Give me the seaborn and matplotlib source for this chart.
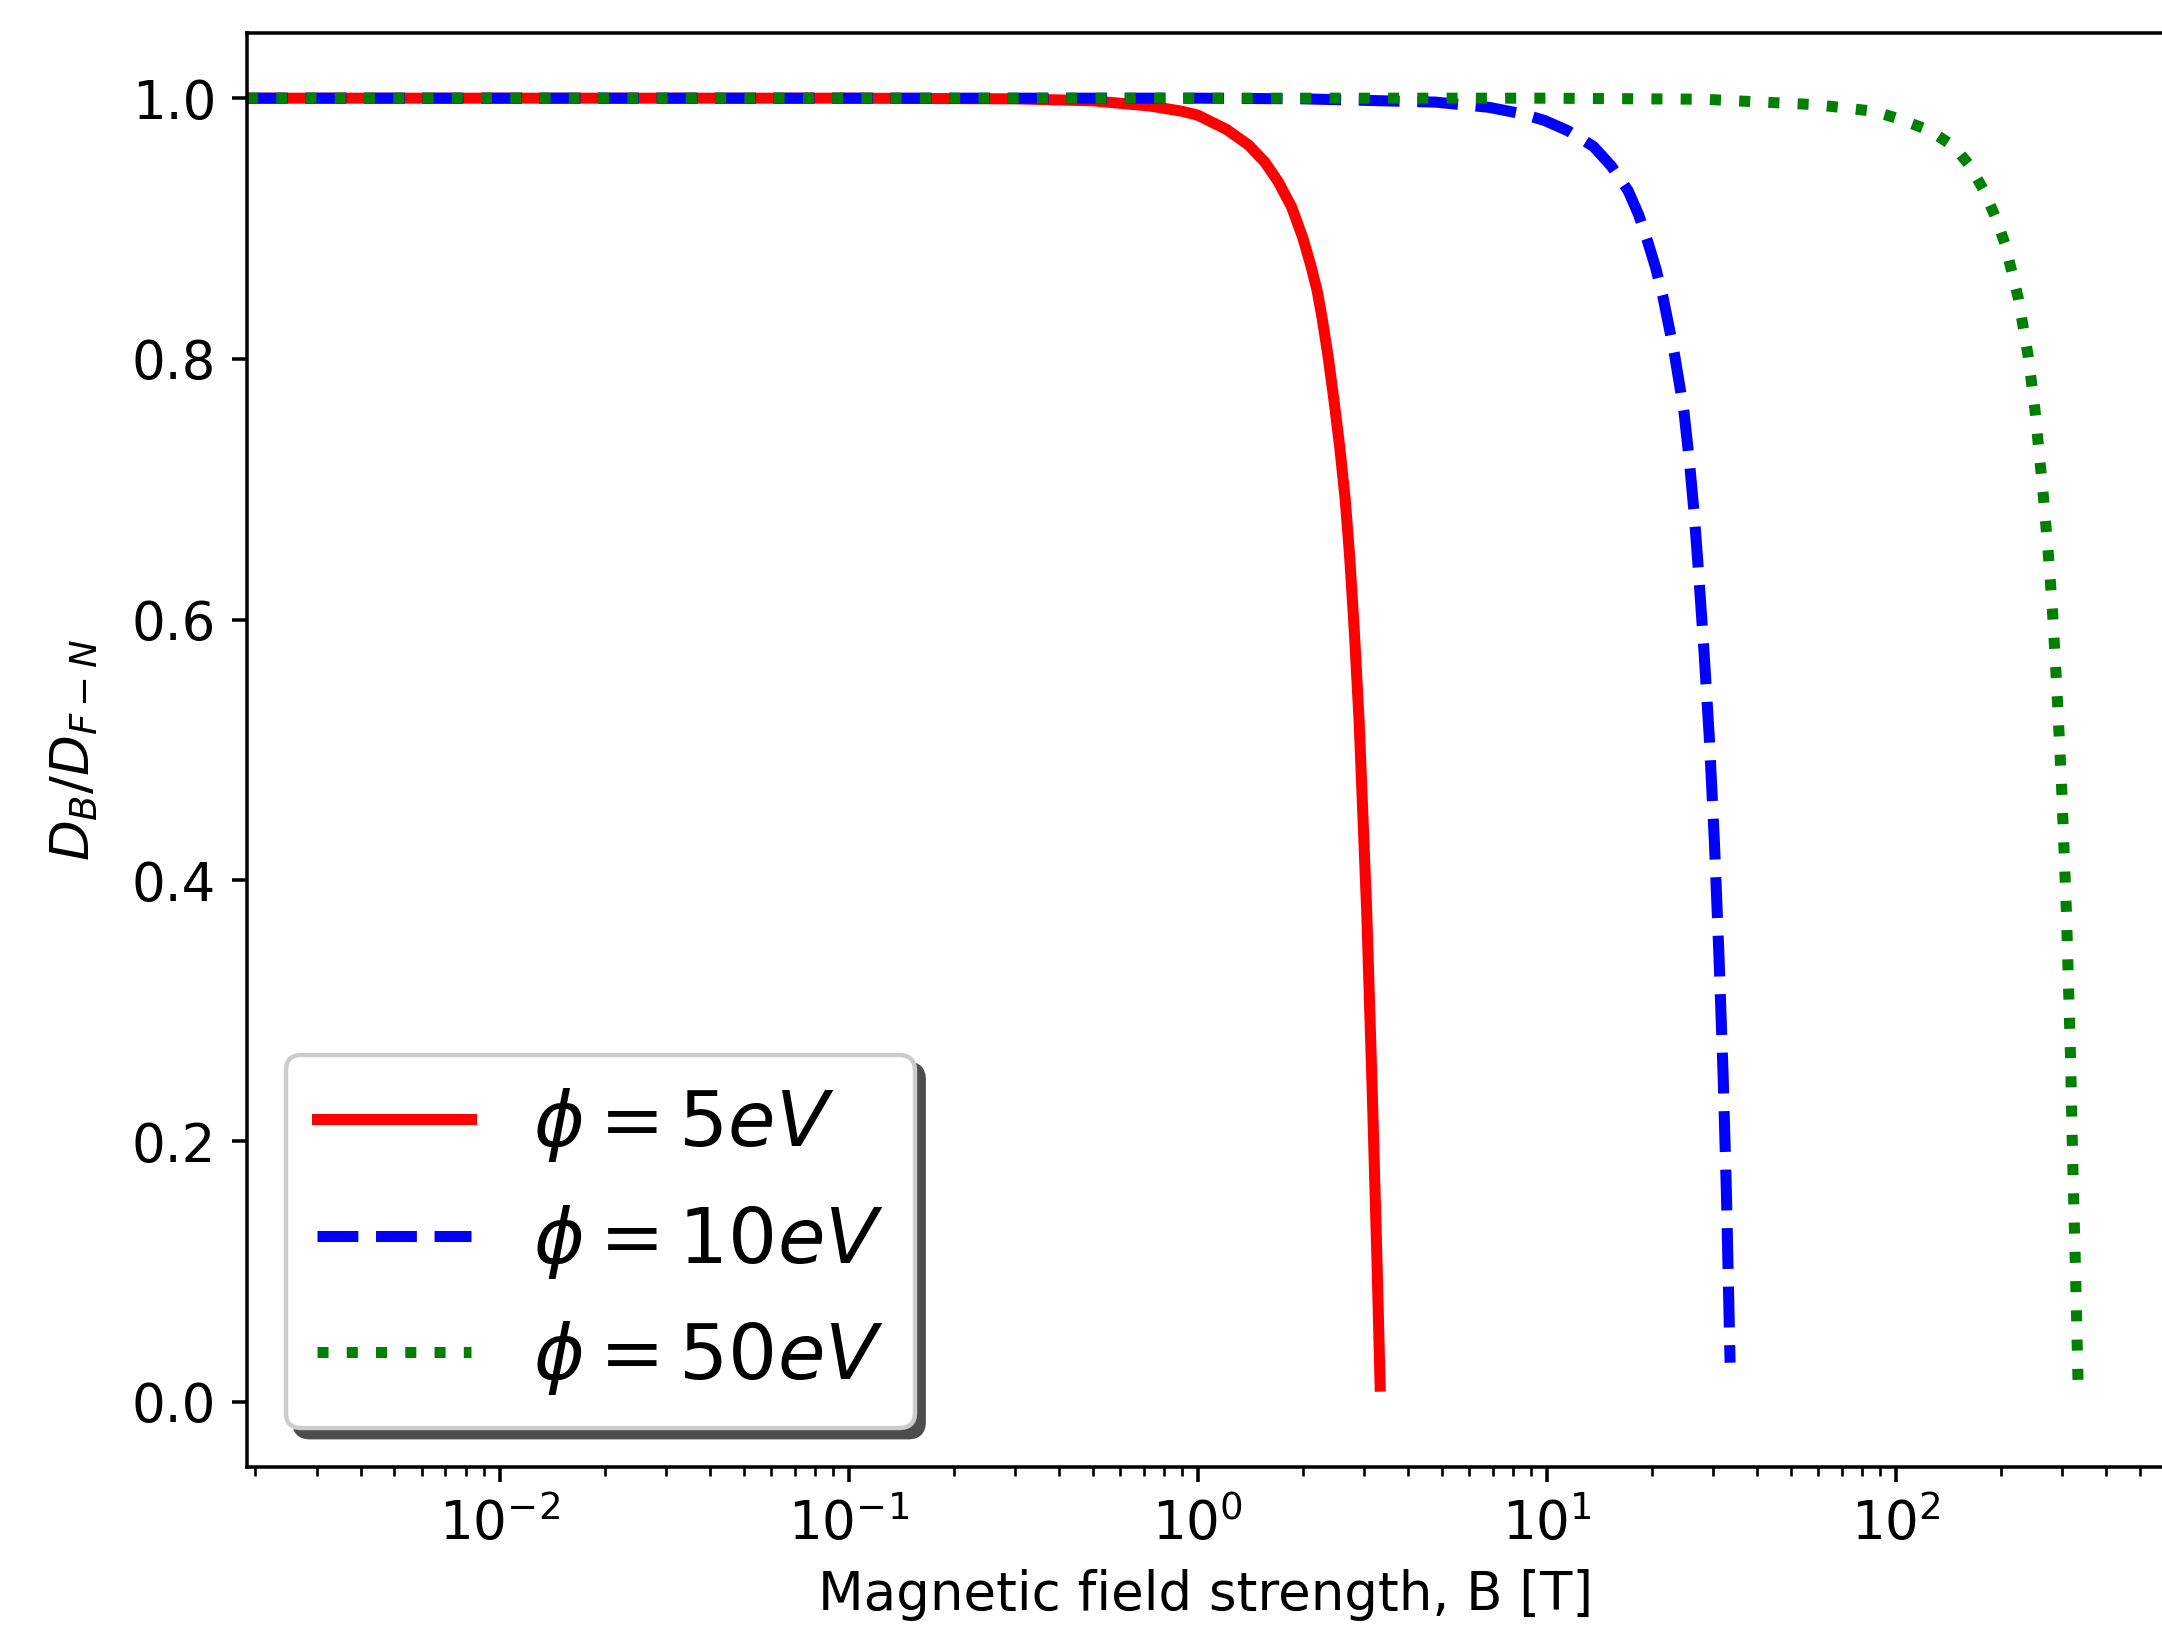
import numpy as np
import pandas as pd
import seaborn as sns
import matplotlib.pyplot as plt

# values
b_5ev = [0.00189, 0.01, 0.1, 0.3, 0.5, 0.73, 0.9, 1.0, 1.21, 1.4, 1.557, 1.7,
         1.858, 2.0, 2.107, 2.2, 2.273, 2.36, 2.452, 2.55, 2.646, 2.722, 2.81,
         2.90, 3.049, 3.167, 3.265, 3.331]
d_5ev = [1.0, 1.0, 1.0, 0.9995, 0.998, 0.994, 0.990, 0.987, 0.976, 0.964, 0.951,
         0.936, 0.9165, 0.893, 0.872, 0.852, 0.831, 0.803, 0.770, 0.733, 0.692,
         0.650, 0.591, 0.522, 0.376, 0.232, 0.105, 0.012]

b_10ev = [0.00189, 0.01, 0.1, 1.0, 2.0, 4.79, 6.82, 8.5, 9.83, 11.5, 13.6, 15.3,
          17.1, 18.3, 19.4, 20.5, 21.5, 23.2, 24.7, 25.6, 26.4, 27.1, 28.2, 29.2,
          30.2, 31.1, 32.0, 32.7, 33.5]
d_10ev = [1.0, 1.0, 1.0, 1.0, 0.9995, 0.997, 0.993, 0.988, 0.983, 0.975, 0.963,
          0.948, 0.929, 0.911, 0.891, 0.870, 0.848, 0.804, 0.760, 0.722, 0.683,
          0.643, 0.576, 0.510, 0.430, 0.345, 0.250, 0.160, 0.030]

b_50ev = [0.00189, 0.01, 0.1, 1.0, 10.0, 28.0, 59.3, 86.1, 102.7, 122.5, 132.0,
          142.8, 152.0, 163.0, 178.0, 192.0, 205.0, 224.0, 239.0, 250.0, 264.0,
          273.0, 281.0, 289.0, 298.0, 308.0, 316.6, 320.6, 327.0, 332.5]
d_50ev = [1.0, 1.0, 1.0, 1.0, 1.0, 0.9992, 0.995, 0.990, 0.984, 0.976, 0.971,
          0.965, 0.958, 0.948, 0.930, 0.910, 0.889, 0.847, 0.803, 0.762, 0.697,
          0.652, 0.606, 0.548, 0.475, 0.375, 0.262, 0.190, 0.100, 0.015]

labels = [r'$\phi = 5eV$', r'$\phi = 10eV$', r'$\phi = 50eV$']

plt.rcParams['font.size'] = 12

dpi = 318
fig = plt.figure(figsize=(2162 / dpi, 1636 / dpi), dpi=dpi)
ax = fig.add_axes([247 / 2162, 169 / 1636, 1917 / 2162, 1434 / 1636])

sns.lineplot(x=b_5ev, y=d_5ev, color='red', lw=2.5, linestyle='-',
             label=labels[0], ax=ax)
sns.lineplot(x=b_10ev, y=d_10ev, color='blue', lw=2.5, linestyle='--',
             label=labels[1], ax=ax)
sns.lineplot(x=b_50ev, y=d_50ev, color='green', lw=2.5, linestyle=':',
             label=labels[2], ax=ax)

ax.set_xscale('log')
ax.set_xlim(10 ** -2.7233, 10 ** 2.768)
ax.set_ylim(-0.05, 1.05)
ax.set_xlabel('Magnetic field strength, B [T]')
ax.set_ylabel(r'$D_B/D_{F-N}$', labelpad=7)
ax.legend(loc='lower left', fontsize=17.5,
          shadow={'color': '0.3', 'alpha': 1})

fig.savefig('out.png', dpi=dpi)
